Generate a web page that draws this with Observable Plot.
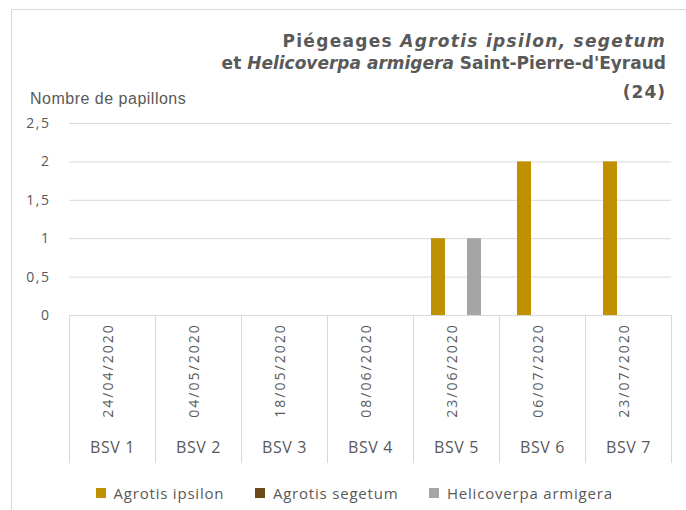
<!DOCTYPE html>
<html>
<head>
<meta charset="utf-8">
<script src="https://cdn.jsdelivr.net/npm/d3@7"></script>
<script src="https://cdn.jsdelivr.net/npm/@observablehq/plot@0.6"></script>
<style>
  html, body { margin: 0; padding: 0; background: #fff; }
  #wrap { position: relative; width: 686px; height: 510px; overflow: hidden; background: #fff; }
  #border { position: absolute; left: 11px; top: 9px; right: -2px; bottom: -2px;
            border-left: 1px solid #d9d9d9; border-top: 1px solid #d9d9d9; }
  #chart { position: absolute; left: 0; top: 0; }
  #title { position: absolute; right: 20px; top: 30px; text-align: right;
           font-family: "DejaVu Sans"; font-weight: bold; font-size: 17px; color: #595959;
           line-height: 22px; white-space: nowrap; }
  #title .l1 { letter-spacing: 1.3px; }
  #title .l2 { letter-spacing: 0px; }
  #title .l3 { margin-top: 7px; letter-spacing: 1px; }
  #ylabel { position: absolute; left: 30px; top: 90px; font-family: "Liberation Sans";
            font-size: 16px; letter-spacing: 0.5px; color: #595959; white-space: nowrap; }
  #legend { position: absolute; left: 96px; top: 476px; }
  .lg-swatch { margin-right: 31px !important; letter-spacing: 0.8px; }
</style>
</head>
<body>
<div id="wrap">
  <div id="border"></div>
  <div id="chart"></div>
  <div id="title">
    <div class="l1">Piégeages <i>Agrotis ipsilon, segetum</i></div>
    <div class="l2">et <i>Helicoverpa armigera</i> Saint-Pierre-d'Eyraud</div>
    <div class="l3">(24)</div>
  </div>
  <div id="ylabel">Nombre de papillons</div>
  <div id="legend"></div>
</div>
<script>
const categories = ["BSV 1", "BSV 2", "BSV 3", "BSV 4", "BSV 5", "BSV 6", "BSV 7"];
const dates = ["24/04/2020", "04/05/2020", "18/05/2020", "08/06/2020", "23/06/2020", "06/07/2020", "23/07/2020"];
const series = ["Agrotis ipsilon", "Agrotis segetum", "Helicoverpa armigera"];
const ipsilon = [0, 0, 0, 0, 1, 2, 2];
const segetum = [0, 0, 0, 0, 0, 0, 0];
const helicoverpa = [0, 0, 0, 0, 1, 0, 0];
const yTicks = [0, 0.5, 1, 1.5, 2, 2.5];
const colors = ["#BF9000", "#6E4A18", "#A5A5A5"];

const seriesValues = [ipsilon, segetum, helicoverpa];
const table = categories.flatMap((c, i) =>
  series.map((s, j) => ({bsv: c, series: s, value: seriesValues[j][i]})));
const labels = categories.map((c, i) => ({bsv: c, date: dates[i]}));

const W = 686, H = 470, MT = 123, MB = 155;
const plotH = H - MT - MB;

const chart = Plot.plot({
  width: W,
  height: H,
  marginTop: MT,
  marginBottom: MB,
  marginLeft: 67,
  marginRight: 14,
  style: {fontFamily: "Open Sans", color: "#595959", background: "transparent", overflow: "visible"},
  fx: {domain: categories, padding: 0, axis: null},
  x: {domain: series, paddingInner: 0.21, paddingOuter: 0.9, axis: null},
  y: {domain: [0, 2.5], axis: null},
  color: {domain: series, range: colors},
  marks: [
    Plot.ruleY(yTicks, {y: d => d, stroke: "#d9d9d9", strokeWidth: 1}),
    Plot.barY(table, {fx: "bsv", x: "series", y: "value", fill: "series"}),
    Plot.frame({anchor: "left", stroke: "#d9d9d9", insetTop: plotH, insetBottom: -147}),
    Plot.frame({anchor: "right", stroke: "#d9d9d9", insetTop: plotH, insetBottom: -147}),
    Plot.text(labels, {fx: "bsv", text: "date", frameAnchor: "bottom", rotate: -90, dy: 55,
      fontSize: 14, fill: "#595959"}),
    Plot.text(labels, {fx: "bsv", text: "bsv", frameAnchor: "bottom", dy: 137,
      fontSize: 16, fill: "#595959"}),
    Plot.axisY(yTicks, {tickSize: 0, tickPadding: 19, fontSize: 14, label: null,
      tickFormat: d => String(d).replace(".", ",")})
  ]
});
document.getElementById("chart").appendChild(chart);

// letter spacing tweaks
const textGroups = chart.querySelectorAll('g[aria-label="text"]');
if (textGroups[0]) textGroups[0].setAttribute("letter-spacing", "2");
if (textGroups[1]) textGroups[1].setAttribute("letter-spacing", "0.6");
chart.querySelectorAll('g[aria-label="y-axis tick label"]').forEach(g => g.setAttribute("letter-spacing", "1.5"));

const legend = chart.legend("color", {
  swatchSize: 10,
  className: "lg",
  style: {fontFamily: "Open Sans", fontSize: "15px", color: "#595959"}
});
document.getElementById("legend").appendChild(legend);
</script>
</body>
</html>
